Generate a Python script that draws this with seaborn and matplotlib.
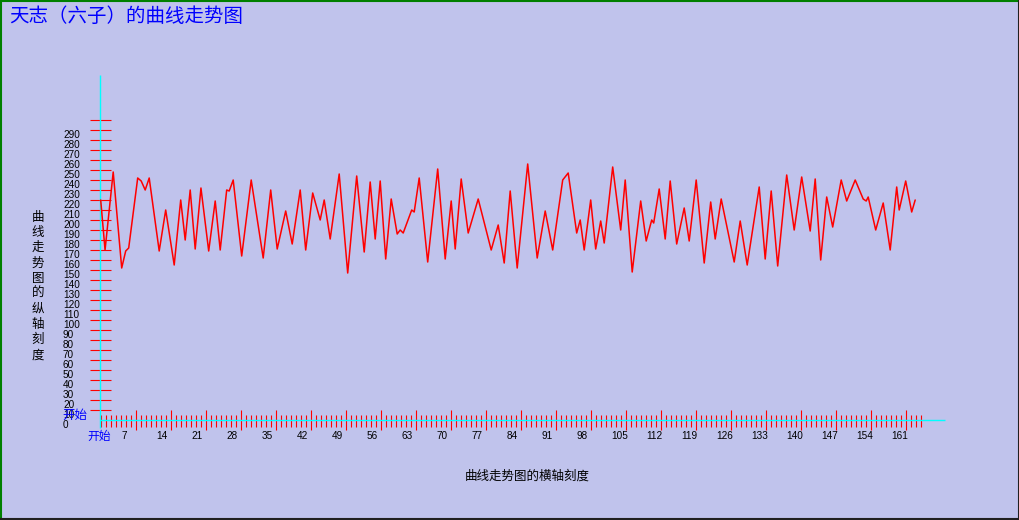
import matplotlib
matplotlib.use("Agg")
import matplotlib.pyplot as plt
from matplotlib import font_manager
from matplotlib.lines import Line2D
import seaborn as sns
import pandas as pd

# ---------------- data ----------------
curve_x = [0.0, 0.87, 2.5, 4.2, 5.0, 5.6, 7.4, 8.1, 8.9, 9.7, 11.7, 13.0, 14.7, 16.0,
           16.9, 17.9, 18.9, 20.05, 21.6, 22.9, 23.9, 25.2, 25.7, 26.5, 28.2, 30.1,
           32.5, 34.0, 35.3, 37.0, 38.3, 39.9, 41.0, 42.4, 43.9, 44.7, 45.9, 47.7,
           49.4, 51.2, 52.7, 53.9, 54.9, 55.9, 57.0, 58.1, 59.3, 59.9, 60.5, 62.2,
           62.7, 63.7, 65.4, 67.4, 68.9, 70.1, 70.9, 72.1, 73.5, 75.5, 78.1, 79.5,
           80.7, 81.9, 83.3, 85.4, 87.3, 88.9, 90.4, 92.4, 93.5, 95.2, 95.9, 96.7,
           98.0, 99.0, 100.0, 100.7, 102.4, 104.0, 104.9, 106.3, 108.0, 109.1, 110.2,
           110.6, 111.7, 112.9, 113.9, 115.2, 116.7, 117.7, 119.1, 120.7, 122.0,
           122.9, 124.1, 126.7, 127.9, 129.3, 131.7, 132.9, 134.1, 135.4, 137.2,
           138.7, 140.2, 141.9, 142.9, 144.0, 145.2, 146.4, 148.1, 149.2, 150.9,
           152.5, 153.1, 153.5, 155.0, 156.5, 157.9, 159.2, 159.7, 161.0, 162.2, 162.9]
curve_y = [220, 170, 248, 152, 169, 172, 242, 239, 230, 242, 169, 210, 155, 220,
           180, 230, 171, 232, 169, 219, 170, 230, 229, 240, 164, 240,
           162, 230, 171, 209, 176, 230, 170, 227, 200, 220, 181, 246,
           147, 244, 168, 238, 181, 239, 161, 221, 186, 190, 187, 210,
           208, 242, 158, 251, 161, 219, 171, 241, 187, 221, 170, 195,
           157, 229, 152, 256, 162, 209, 170, 240, 247, 187, 200, 170,
           220, 171, 199, 177, 253, 190, 240, 148, 219, 179, 200,
           197, 231, 181, 239, 176, 212, 179, 240, 157, 218,
           181, 221, 158, 199, 155, 233, 161, 229, 154, 245,
           190, 243, 189, 241, 160, 223, 193, 240, 219, 240,
           221, 219, 223, 190, 217, 170, 233, 210, 239, 208, 220]

y_tick_values = list(range(10, 310, 10))
y_label_values = list(range(0, 300, 10))
x_tick_values = list(range(0, 165))
x_label_values = list(range(0, 162, 7))
x_label_texts = ["开始"] + [str(v) for v in x_label_values[1:]]
start_text = "开始"
title_text = "天志（六子）的曲线走势图"
y_axis_title = "曲线走势图的纵轴刻度"
x_axis_title = "曲线走势图的横轴刻度"

# ---------------- style ----------------
sns.set_style("white")
plt.rcParams['font.family'] = ['Noto Sans CJK SC', 'DejaVu Sans']

names = {f.name for f in font_manager.fontManager.ttflist}
if 'Liberation Sans Narrow' in names:
    num_font, num_size = ['Liberation Sans Narrow', 'DejaVu Sans'], 8
else:
    num_font, num_size = ['Liberation Sans', 'DejaVu Sans'], 7.2

BG = '#c0c3ec'
RED = '#ff0000'
CYAN = '#00ffff'
BLUE = '#0000ff'

W, H = 1020, 520
fig = plt.figure(figsize=(W / 100, H / 100), dpi=100, facecolor=BG)
ax = fig.add_axes([0, 0, 1, 1])
ax.set_facecolor(BG)

X0_PX, Y0_PX, SX = 100.7, 420.0, 5.0   # layout: origin pixel and pixels per unit


def px(xp):
    return (xp - X0_PX) / SX


def py(yp):
    return Y0_PX - yp


ax.set_xlim(px(0), px(W))
ax.set_ylim(py(H), py(0))
for s in ax.spines.values():
    s.set_visible(False)
ax.set_xticks([])
ax.set_yticks([])

# y-axis ticks (red) and axis (cyan)
ax.hlines(y_tick_values, px(90), px(111), color=RED, lw=0.8, zorder=2)
# x-axis ticks
small = [v for v in x_tick_values if v % 7 != 0 or v == 0]
big = [v for v in x_tick_values if v % 7 == 0 and v != 0]
ax.vlines(small, py(427), py(415), color=RED, lw=0.8, zorder=2)
ax.vlines(big, py(430), py(410), color=RED, lw=0.8, zorder=2)
ax.vlines(px(100.5), py(428), py(75), color=CYAN, lw=1.0, zorder=3)
ax.hlines(0, px(100), px(945), color=CYAN, lw=1.0, zorder=3)

# curve
df = pd.DataFrame({'idx': curve_x, 'val': curve_y})
sns.lineplot(data=df, x='idx', y='val', color=RED, lw=1.1, ax=ax,
             estimator=None, sort=False, zorder=4)
ax.set_xlabel('')
ax.set_ylabel('')

# y labels
for v in y_label_values:
    ax.text(px(63), v - 5, str(v), ha='left', va='center', color='black',
            family=num_font, fontsize=num_size, zorder=5)
# x labels
for v, t in zip(x_label_values, x_label_texts):
    if v == 0:
        ax.text(px(99), py(436), t, ha='center', va='center', color=BLUE,
                fontsize=8.5, zorder=5)
    else:
        ax.text(v - 14 / SX, py(436), t, ha='left', va='center', color='black',
                family=num_font, fontsize=num_size, zorder=5)
# blue start label on y axis (overlaps the "10" label, as in the reference)
ax.text(px(62), py(415), start_text, ha='left', va='center', color=BLUE,
        fontsize=9, zorder=6)

# axis titles
for i, ch in enumerate(y_axis_title):
    ax.text(px(38), py(217 + 15.3 * i), ch, ha='center', va='center',
            color='black', fontsize=9, zorder=5)
ax.text(px(527), py(476), x_axis_title, ha='center', va='center',
        color='black', fontsize=9, zorder=5)

# title
ax.text(px(9), py(16), title_text, ha='left', va='center', color=BLUE,
        fontsize=14, zorder=5)

# border: green top/left, dark bottom/right
fig.add_artist(Line2D([0, 1], [1 - 0.8 / H, 1 - 0.8 / H], color='#008000', lw=1.5,
                      transform=fig.transFigure))
fig.add_artist(Line2D([0.8 / W, 0.8 / W], [0, 1], color='#008000', lw=1.5,
                      transform=fig.transFigure))
fig.add_artist(Line2D([0, 1], [0.8 / H, 0.8 / H], color='#202020', lw=1.5,
                      transform=fig.transFigure))
fig.add_artist(Line2D([1 - 0.8 / W, 1 - 0.8 / W], [0, 1], color='#202020', lw=1.5,
                      transform=fig.transFigure))

fig.savefig('out.png', dpi=100, facecolor=BG)
